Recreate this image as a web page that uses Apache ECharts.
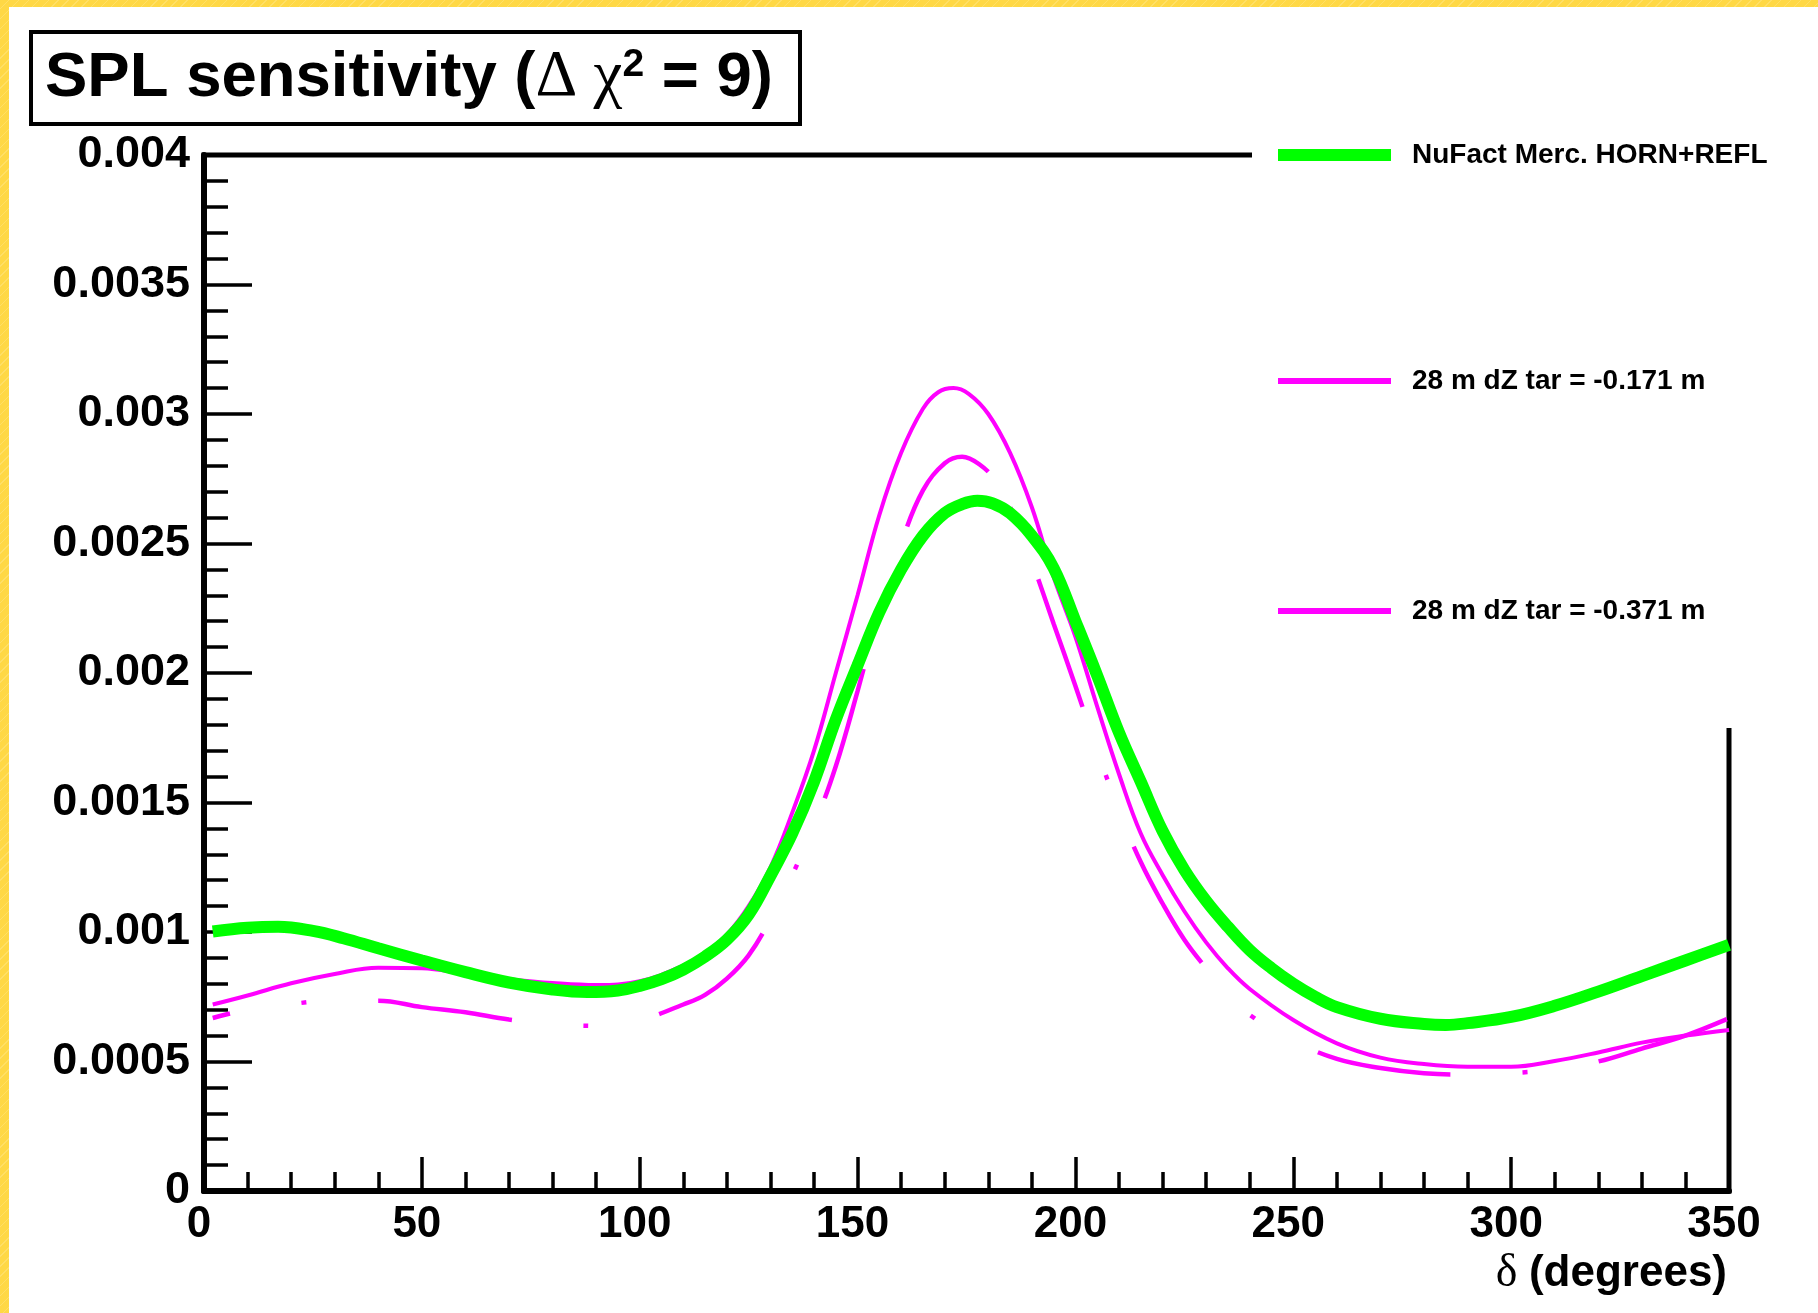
<!DOCTYPE html>
<html>
<head>
<meta charset="utf-8">
<title>SPL sensitivity</title>
<script src="https://cdn.jsdelivr.net/npm/echarts@6/dist/echarts.min.js"></script>
<style>
  html, body { margin: 0; padding: 0; background: #ffffff; }
  #chart { position: absolute; left: 0; top: 0; width: 1818px; height: 1313px; }
  .strip {
    position: absolute; z-index: 10;
    background: repeating-linear-gradient(135deg, #ffd845 0px, #ffd845 6px, #ffdf66 6px, #ffdf66 7px);
  }
  #stripLeft { left: 0; top: 0; width: 9px; height: 1313px; }
  #stripTop { left: 0; top: 0; width: 1818px; height: 7px; }
</style>
</head>
<body>
<div id="chart"></div>
<div class="strip" id="stripLeft"></div>
<div class="strip" id="stripTop"></div>
<script>
// sin^2(2 theta13) sensitivity at Delta chi^2 = 9 versus the CP phase delta (degrees)

// NuFact Merc. HORN+REFL
const nufactDeg = [2, 10, 17, 25, 32, 40, 50, 60, 70, 80, 88, 95, 100, 105, 110, 115, 120, 125, 130, 135,
  140, 145, 150, 155, 160, 165, 170, 174, 177.5, 181, 185, 190, 195, 200, 205, 210, 215, 220, 225, 230,
  235, 240, 245, 250, 255, 260, 270, 280, 285, 290, 300, 310, 320, 330, 340, 350];
const nufactVal = [0.001002, 0.001016, 0.00102, 0.001004, 0.000976, 0.000937, 0.00089, 0.000845, 0.000805, 0.000778,
  0.000768, 0.000774, 0.000792, 0.000818, 0.000855, 0.000905, 0.00097, 0.001067, 0.001217, 0.00138,
  0.00158, 0.00182, 0.00203, 0.002235, 0.0024, 0.00253, 0.002617, 0.002652, 0.002665, 0.002655,
  0.002617, 0.00253, 0.002405, 0.0022, 0.00199, 0.00177, 0.00158, 0.00139, 0.00124, 0.00112,
  0.00102, 0.00093, 0.00086, 0.0008, 0.00075, 0.00071, 0.000665, 0.000645, 0.000641, 0.000648,
  0.000672, 0.000715, 0.00077, 0.00083, 0.00089, 0.00095];

// 28 m, dZ tar = -0.171 m
const dz171Deg = [2, 10, 20, 30, 40, 50, 60, 70, 80, 90, 100, 110, 115, 120, 125, 130, 135, 140, 145, 150,
  155, 160, 165, 168.5, 172, 175.5, 180, 185, 190, 195, 200, 205, 210, 215, 220, 225, 230, 235, 240, 250,
  260, 270, 280, 290, 300, 310, 320, 330, 340, 350];
const dz171Val = [0.00072, 0.000755, 0.000802, 0.000838, 0.000862, 0.00086, 0.000838, 0.000818, 0.000803, 0.000795,
  0.00081, 0.00087, 0.00092, 0.00099, 0.0011, 0.00125, 0.00146, 0.0017, 0.002, 0.0023,
  0.00261, 0.00285, 0.00302, 0.003084, 0.0031, 0.003078, 0.003, 0.00285, 0.00264, 0.00237,
  0.00214, 0.00187, 0.00161, 0.00138, 0.00122, 0.00108, 0.00096, 0.00086, 0.00078, 0.00066,
  0.00057, 0.000515, 0.00049, 0.00048, 0.00048, 0.000502, 0.000535, 0.000573, 0.0006, 0.000622];

// 28 m, dZ tar = -0.371 m
const dz371Deg = [2, 10, 20, 30, 40, 50, 60, 70, 80, 90, 100, 110, 115, 120, 125, 130, 135, 140, 145, 150,
  155, 160, 165, 170, 174, 180, 185, 190, 195, 200, 205, 210, 215, 220, 225, 230, 235, 240, 250, 260,
  270, 280, 290, 300, 310, 320, 330, 340, 350];
const dz371Val = [0.000668, 0.0007, 0.000722, 0.000735, 0.000735, 0.00071, 0.00069, 0.000662, 0.000645, 0.000638,
  0.00066, 0.00072, 0.000757, 0.00082, 0.00091, 0.00105, 0.00122, 0.00141, 0.00164, 0.00193,
  0.00224, 0.0025, 0.002705, 0.00281, 0.002835, 0.002777, 0.00264, 0.00243, 0.00219, 0.00195,
  0.0017, 0.00147, 0.00127, 0.00111, 0.00097, 0.00086, 0.00076, 0.00068, 0.00058, 0.00051,
  0.000475, 0.000455, 0.00045, 0.000455, 0.00047, 0.0005, 0.00055, 0.0006, 0.000667];

const seriesNames = ['NuFact Merc. HORN+REFL', '28 m dZ tar = -0.171 m', '28 m dZ tar = -0.371 m'];
const xTickLabels = ['0', '50', '100', '150', '200', '250', '300', '350'];
const yTickLabels = ['0', '0.0005', '0.001', '0.0015', '0.002', '0.0025', '0.003', '0.0035', '0.004'];

const pairs = (xs, ys) => xs.map((x, i) => [x, ys[i]]);

const SANS = '"Liberation Sans", Arial, Helvetica, sans-serif';
const SERIF = '"Liberation Serif", "DejaVu Serif", serif';
const MAGENTA = '#ff00ff';
const GREEN = '#00ff00';

// the dashed curve is stroked in two pieces, joined at the peak, so each
// flank keeps its own dash phase
const dz371Pts = pairs(dz371Deg, dz371Val);
const dz371Split = dz371Deg.indexOf(180);
const dashPattern = [135, 72, 5, 72];

const chart = echarts.init(document.getElementById('chart'), null, { renderer: 'canvas' });

function legendFor(name, top, height) {
  return {
    data: [{ name: name, icon: 'rect' }],
    left: 1278, top: top, padding: 0, orient: 'vertical',
    itemWidth: 113, itemHeight: height,
    selectedMode: false, z: 60,
    textStyle: { fontFamily: SANS, fontWeight: 'bold', fontSize: 28, color: '#000', lineHeight: 30, padding: [0, 0, 0, 16] }
  };
}

function curve(name, points, color, width, z, extra) {
  return {
    name: name, type: 'line', data: points,
    symbol: 'none', smooth: 0.4, color: color, z: z,
    lineStyle: Object.assign({ color: color, width: width }, extra || {})
  };
}

const option = {
  animation: false,
  backgroundColor: 'transparent',
  title: {
    text: '{b|SPL sensitivity (}{sym|Δ }{sym|χ}{sup|2}{b| = 9)}',
    left: 31, top: 32,
    padding: [14, 27, 14, 14],
    borderColor: '#000', borderWidth: 4, backgroundColor: '#fff',
    textStyle: {
      rich: {
        b: { fontFamily: SANS, fontWeight: 'bold', fontSize: 63.5, lineHeight: 64, color: '#000' },
        sym: { fontFamily: SERIF, fontWeight: 'normal', fontSize: 65, lineHeight: 64, color: '#000' },
        sup: { fontFamily: SANS, fontWeight: 'bold', fontSize: 39, lineHeight: 38, color: '#000', verticalAlign: 'top' }
      }
    }
  },
  legend: [
    legendFor(seriesNames[0], 140, 12),
    legendFor(seriesNames[1], 366, 6),
    legendFor(seriesNames[2], 596, 6)
  ],
  grid: {
    left: 204, right: 89, top: 155, bottom: 122,
    show: true, borderColor: '#000', borderWidth: 5, backgroundColor: 'transparent'
  },
  xAxis: {
    type: 'value', min: 0, max: 350, interval: 50,
    name: '{sym|δ }{b|(degrees)}',
    nameLocation: 'end', nameGap: -2,
    nameTextStyle: {
      align: 'right', verticalAlign: 'top', padding: [60, 0, 0, 0],
      rich: {
        b: { fontFamily: SANS, fontWeight: 'bold', fontSize: 44, lineHeight: 46, color: '#000' },
        sym: { fontFamily: SERIF, fontWeight: 'normal', fontSize: 46, lineHeight: 46, color: '#000' }
      }
    },
    axisLine: { show: true, lineStyle: { color: '#000', width: 6 } },
    axisTick: { show: true, inside: true, length: 34, lineStyle: { color: '#000', width: 3.5 } },
    minorTick: { show: true, splitNumber: 5, length: 19, lineStyle: { color: '#000', width: 3.5 } },
    splitLine: { show: false },
    axisLabel: {
      margin: 12, padding: [0, 10, 0, 0],
      fontFamily: SANS, fontWeight: 'bold', fontSize: 44, lineHeight: 44, color: '#000',
      showMinLabel: true, showMaxLabel: true,
      formatter: v => xTickLabels[Math.round(v / 50)]
    }
  },
  yAxis: {
    type: 'value', min: 0, max: 0.004, interval: 0.0005,
    axisLine: { show: true, lineStyle: { color: '#000', width: 6 } },
    axisTick: { show: true, inside: true, length: 48, lineStyle: { color: '#000', width: 3.5 } },
    minorTick: { show: true, splitNumber: 5, length: 24, lineStyle: { color: '#000', width: 3.5 } },
    splitLine: { show: false },
    axisLabel: {
      margin: 14,
      fontFamily: SANS, fontWeight: 'bold', fontSize: 45, color: '#000',
      showMinLabel: true, showMaxLabel: true,
      formatter: v => yTickLabels[Math.round(v / 0.0005)]
    }
  },
  graphic: [
    // clears the frame behind the legend block
    { type: 'rect', z: 50, silent: true, shape: { x: 1252, y: 125, width: 566, height: 603 }, style: { fill: '#fff' } }
  ],
  series: [
    curve(seriesNames[1], pairs(dz171Deg, dz171Val), MAGENTA, 4, 2),
    curve(seriesNames[2], dz371Pts.slice(0, dz371Split + 1), MAGENTA, 4.5, 2,
      { type: dashPattern, dashOffset: 117 }),
    curve(seriesNames[2], dz371Pts.slice(dz371Split), MAGENTA, 4.5, 2,
      { type: dashPattern, dashOffset: 165 }),
    curve(seriesNames[0], pairs(nufactDeg, nufactVal), GREEN, 12, 3)
  ]
};

chart.setOption(option);
</script>
</body>
</html>
